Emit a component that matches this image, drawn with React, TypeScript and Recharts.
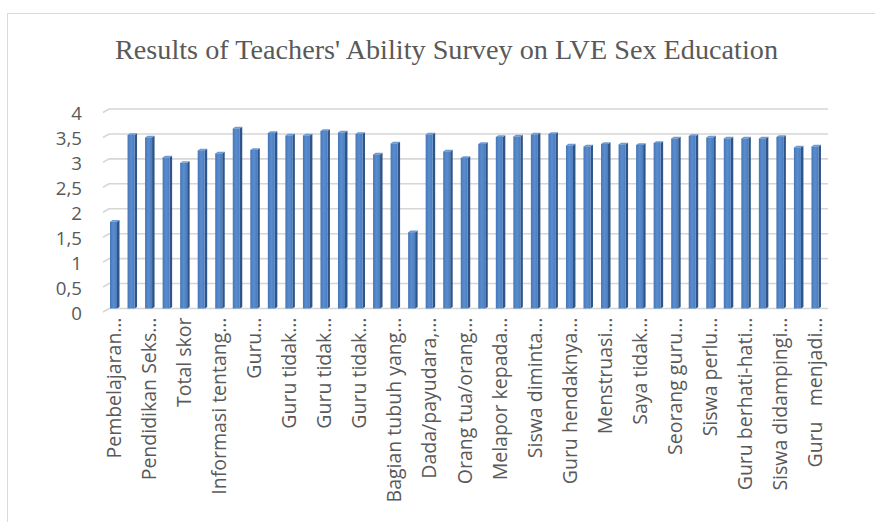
import React from "react";
import { BarChart, Bar, XAxis, YAxis, CartesianGrid } from "recharts";

// Survey items (only every other label is printed on the axis)
const categories: string[] = [
  "Pembelajaran…", "Butir 2", "Pendidikan Seks…", "Butir 4", "Total skor",
  "Butir 6", "Informasi tentang…", "Butir 8", "Guru…", "Butir 10",
  "Guru tidak…", "Butir 12", "Guru tidak…", "Butir 14", "Guru tidak…",
  "Butir 16", "Bagian tubuh yang…", "Butir 18", "Dada/payudara,…", "Butir 20",
  "Orang tua/orang…", "Butir 22", "Melapor kepada…", "Butir 24", "Siswa diminta…",
  "Butir 26", "Guru hendaknya…", "Butir 28", "Menstruasi…", "Butir 30",
  "Saya tidak…", "Butir 32", "Seorang guru…", "Butir 34", "Siswa perlu…",
  "Butir 36", "Guru berhati-hati…", "Butir 38", "Siswa didampingi…", "Butir 40",
  "Guru   menjadi…",
];

// Mean score per item
const scores: number[] = [
  1.74, 3.48, 3.43, 3.03, 2.92, 3.17, 3.11, 3.61, 3.18, 3.52,
  3.47, 3.47, 3.56, 3.53, 3.5, 3.09, 3.31, 1.53, 3.49, 3.15,
  3.02, 3.3, 3.44, 3.45, 3.49, 3.5, 3.27, 3.25, 3.3, 3.29,
  3.28, 3.32, 3.41, 3.46, 3.43, 3.41, 3.41, 3.41, 3.44, 3.23,
  3.25,
];

const yTicks: number[] = [0, 0.5, 1, 1.5, 2, 2.5, 3, 3.5, 4];

const title = "Results of Teachers' Ability Survey on LVE Sex Education";

const data = categories.map((label, i) => ({ idx: i, label, value: scores[i] }));

const TEXT = "#595959";
const GRID = "#d6d6d6";
const FONT = "'Open Sans', sans-serif";

// Column with a shallow 3D look: front face, dark right side, light top
const Column3D = (props: any) => {
  const { x, y, width, height } = props;
  if (height == null || height <= 0) return null;
  const d = 2.5;
  const up = 1.6;
  return (
    <g>
      <polygon
        points={`${x + width},${y} ${x + width + d},${y - up} ${x + width + d},${y + height - up} ${x + width},${y + height}`}
        fill="#2f5588"
      />
      <polygon
        points={`${x},${y} ${x + d},${y - up} ${x + width + d},${y - up} ${x + width},${y}`}
        fill="#6f9bd6"
      />
      <rect x={x} y={y} width={width} height={height} fill="url(#colFront)" />
    </g>
  );
};

// Horizontal gridline with the small slanted floor edge on the left
const GridLine = (props: any) => {
  const { x1, x2, y1 } = props;
  return (
    <path
      d={`M${x1 - 2},${y1 + 3.5} L${x1 + 4},${y1} L${x2 + 4},${y1}`}
      stroke={GRID}
      strokeWidth={1.6}
      fill="none"
    />
  );
};

const YTick = (props: any) => {
  const { x, y, payload } = props;
  return (
    <text x={x} y={y} dy={11} textAnchor="end" fill={TEXT} fontFamily={FONT} fontSize={18.7}>
      {String(payload.value).replace(".", ",")}
    </text>
  );
};

const XTick = (props: any) => {
  const { x, y, payload } = props;
  const label = categories[payload.value];
  return (
    <text
      x={x}
      y={y}
      dy="0.36em"
      textAnchor="end"
      transform={`rotate(-90, ${x}, ${y})`}
      fill={TEXT}
      fontFamily={FONT}
      fontSize={19.5}
      style={{ whiteSpace: "pre" }}
    >
      {label}
    </text>
  );
};

export default function App() {
  return (
    <div
      style={{
        position: "fixed",
        left: 0,
        top: 0,
        width: 875,
        height: 522,
        overflow: "hidden",
        background: "#ffffff",
      }}
    >
      <div
        style={{
          position: "absolute",
          left: 7,
          top: 13,
          width: 900,
          height: 560,
          border: "1.5px solid #d9d9d9",
          boxSizing: "border-box",
        }}
      />
      <svg width={875} height={80} style={{ position: "absolute", left: 0, top: 0 }}>
        <text
          x={446.5}
          y={59}
          textAnchor="middle"
          fill={TEXT}
          fontFamily="'Liberation Serif', serif"
          fontSize={26.5}
          textLength={663}
          lengthAdjust="spacingAndGlyphs"
        >
          {title}
        </text>
      </svg>
      <div style={{ position: "absolute", left: 0, top: 0 }}>
        <BarChart
          width={875}
          height={522}
          data={data}
          margin={{ top: 109, right: 51, left: 0, bottom: 0 }}
        >
          <defs>
            <linearGradient id="colFront" x1="0" y1="0" x2="1" y2="0">
              <stop offset="0%" stopColor="#4677b8" />
              <stop offset="50%" stopColor="#5a8dcf" />
              <stop offset="100%" stopColor="#4a7cbd" />
            </linearGradient>
          </defs>
          <CartesianGrid vertical={false} horizontal={<GridLine />} />
          <XAxis
            dataKey="idx"
            type="category"
            interval={1}
            height={213.5}
            axisLine={false}
            tickLine={false}
            tickSize={0}
            tickMargin={9}
            tick={<XTick />}
          />
          <YAxis
            type="number"
            domain={[0, 4]}
            ticks={yTicks}
            width={105}
            axisLine={false}
            tickLine={false}
            tickSize={0}
            tickMargin={23}
            tick={<YTick />}
          />
          <Bar dataKey="value" barSize={7} shape={<Column3D />} isAnimationActive={false} />
        </BarChart>
      </div>
    </div>
  );
}
